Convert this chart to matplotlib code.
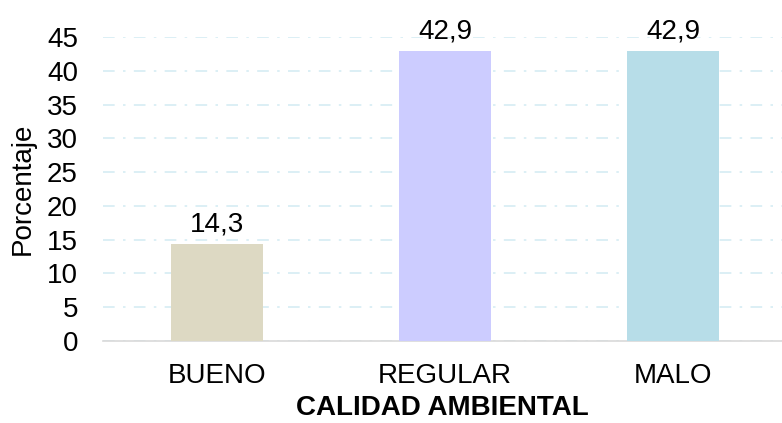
import matplotlib.pyplot as plt

plt.rcParams['font.family'] = ['Liberation Sans', 'DejaVu Sans']

# Datos
categorias = ["BUENO", "REGULAR", "MALO"]
porcentajes = [14.3, 42.9, 42.9]
colores = ["#ddd9c3", "#ccccff", "#b7dde8"]

fig = plt.figure(figsize=(7.82, 4.23), dpi=100)
ax = fig.add_axes([103 / 782, 82 / 423, 679 / 782, 304 / 423])

x = range(len(categorias))
barras = ax.bar(x, porcentajes, width=0.40, color=colores, zorder=3)

# Etiquetas de datos con coma decimal
for b, v in zip(barras, porcentajes):
    ax.annotate(f"{v:.1f}".replace(".", ","),
                (b.get_x() + b.get_width() / 2, b.get_height()),
                xytext=(0, 5), textcoords="offset points",
                ha="center", va="bottom", fontsize=20)

ax.set_xlim(-0.5, 2.5 - 5 / 228)
ax.set_ylim(0, 45)
ax.set_yticks(range(0, 46, 5))
ax.set_xticks(list(x))
ax.set_xticklabels(categorias)

ax.tick_params(axis="both", length=0, labelsize=20)
ax.tick_params(axis="y", pad=18)
ax.tick_params(axis="x", pad=16)

ax.yaxis.grid(True, color="#d6ecf3", linewidth=1.2,
              linestyle=(0, (7, 5, 1.5, 5)), zorder=0)
ax.set_axisbelow(True)

for s in ["top", "right", "left"]:
    ax.spines[s].set_visible(False)
ax.spines["bottom"].set_color("#d9d9d9")
ax.spines["bottom"].set_linewidth(1.2)

ax.set_ylabel("Porcentaje", fontsize=20, labelpad=8)
ax.set_xlabel("CALIDAD AMBIENTAL", fontsize=20, fontweight="bold", labelpad=4)

fig.savefig("out.png", dpi=100)
